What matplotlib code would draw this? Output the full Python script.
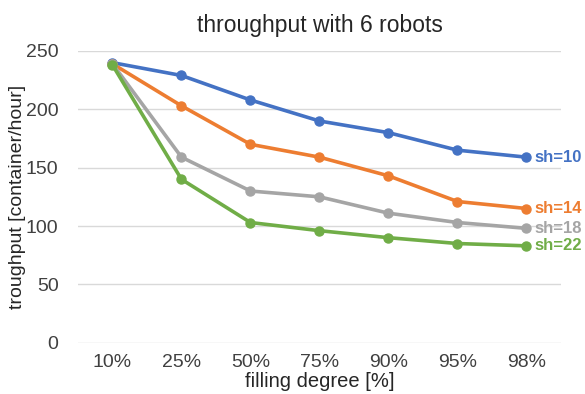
import matplotlib.pyplot as plt

plt.rcParams['font.family'] = ['Liberation Sans', 'DejaVu Sans']

degrees = ["10%", "25%", "50%", "75%", "90%", "95%", "98%"]
sh10 = [240, 229, 208, 190, 180, 165, 159]
sh14 = [239, 203, 170, 159, 143, 121, 115]
sh18 = [239, 159, 130, 125, 111, 103, 98]
sh22 = [238, 140, 103, 96, 90, 85, 83]

series = [("sh=10", sh10, '#4472C4'),
          ("sh=14", sh14, '#ED7D31'),
          ("sh=18", sh18, '#A5A5A5'),
          ("sh=22", sh22, '#70AD47')]

fig = plt.figure(figsize=(5.85, 3.94), dpi=100)
ax = fig.add_axes([0.1333, 0.1302, 0.8256, 0.7404])

x = list(range(len(degrees)))
for name, vals, col in series:
    ax.plot(x, vals, color=col, lw=2.6, marker='o', ms=6.5, solid_capstyle='round')
    ax.text(x[-1] + 0.12, vals[-1], name, color=col, fontsize=12, fontweight='bold',
            va='center', ha='left')

ax.set_xlim(-0.5, len(degrees) - 0.5)
ax.set_ylim(0, 250)
ax.set_yticks(range(0, 251, 50))
ax.set_xticks(x)
ax.set_xticklabels(degrees)
ax.tick_params(length=0, labelsize=14, colors='#404040')
ax.tick_params(axis='x', pad=8)
ax.tick_params(axis='y', pad=14)
ax.grid(axis='y', color='#D9D9D9', lw=1)
ax.set_axisbelow(True)
for s in ax.spines.values():
    s.set_visible(False)

ax.set_title("throughput with 6 robots", fontsize=16.5, color='#262626', pad=14)
ax.set_xlabel("filling degree [%]", fontsize=14.5, color='#262626', labelpad=1)
ax.set_ylabel("troughput [container/hour]", fontsize=14, color='#262626', labelpad=0)

fig.savefig("out.png", dpi=100)
